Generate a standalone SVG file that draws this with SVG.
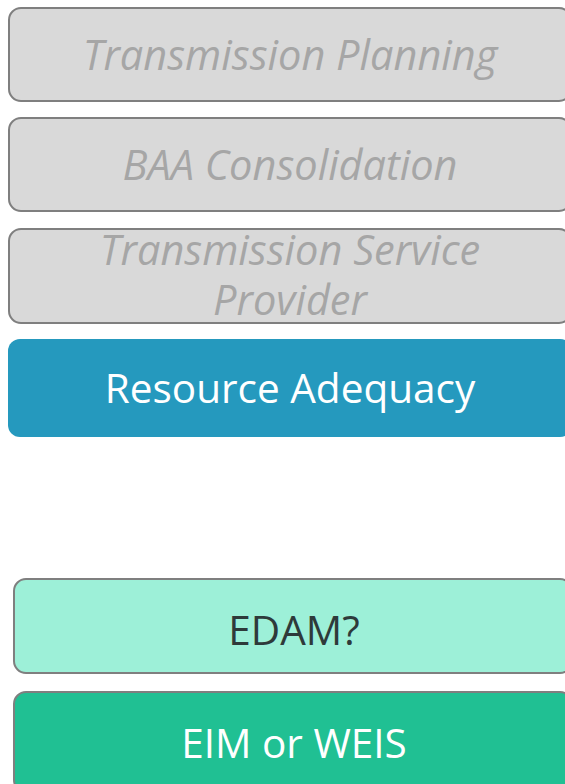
<svg xmlns="http://www.w3.org/2000/svg" width="565" height="784" viewBox="0 0 565 784">
<style>
.gray rect{fill:#d9d9d9;stroke:#7f7f7f;stroke-width:2}
.gray text{fill:#a6a6a6;font-style:italic;font-size:41.5px}
text{font-family:"Open Sans","Noto Sans",sans-serif;font-size:40.5px;text-anchor:middle}
</style>
<rect width="565" height="784" fill="#ffffff"/>
<g id="transmission-planning" class="gray">
<rect x="9" y="8" width="562" height="93" rx="12"/>
<text x="290" y="70">Transmission Planning</text>
</g>
<g id="baa-consolidation" class="gray">
<rect x="9" y="118" width="562" height="93" rx="12"/>
<text x="290" y="180">BAA Consolidation</text>
</g>
<g id="transmission-service-provider" class="gray">
<rect x="9" y="229" width="562" height="94" rx="12"/>
<text x="290" y="265">Transmission Service</text>
<text x="290" y="315">Provider</text>
</g>
<g id="resource-adequacy">
<rect x="8" y="339" width="564" height="98" rx="12" fill="#2599be"/>
<text x="290" y="403" fill="#ffffff">Resource Adequacy</text>
</g>
<g id="edam">
<rect x="14" y="579" width="558" height="94" rx="12" fill="#9df0d8" stroke="#7f7f7f" stroke-width="2"/>
<text x="294" y="645" fill="#2e3a3a">EDAM?</text>
</g>
<g id="eim-or-weis">
<rect x="14" y="692" width="558" height="100" rx="12" fill="#20c093" stroke="#7f7f7f" stroke-width="2"/>
<text x="294" y="758" fill="#ffffff">EIM or WEIS</text>
</g>
<g id="connectors"></g>
</svg>
